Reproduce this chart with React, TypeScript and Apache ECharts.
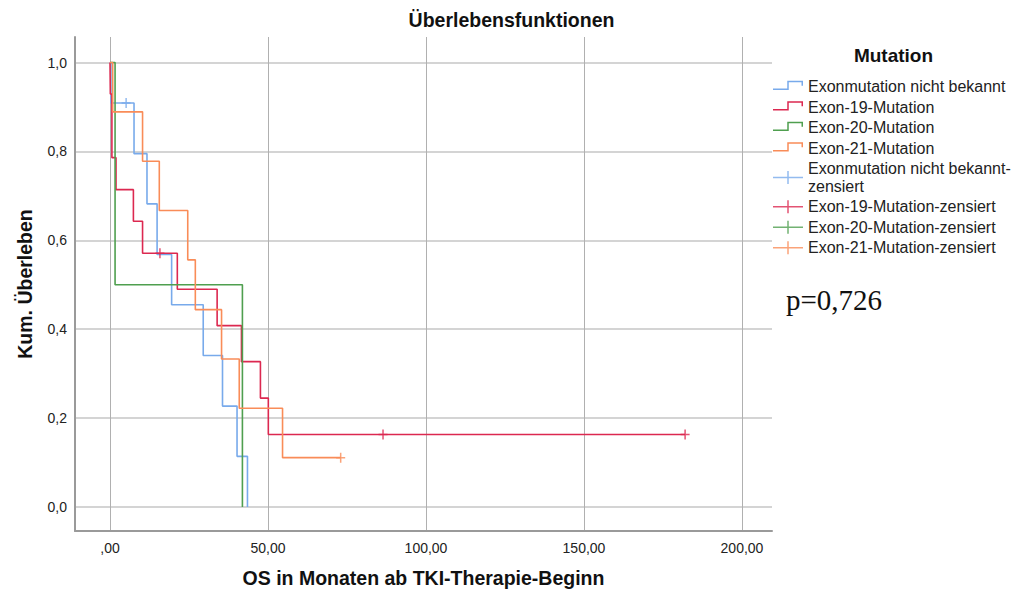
import React, { useEffect, useRef } from "react";
import * as echarts from "echarts";

const groupNames = [
  "Exonmutation nicht bekannt",
  "Exon-19-Mutation",
  "Exon-20-Mutation",
  "Exon-21-Mutation",
];
const censorNames = [
  "Exonmutation nicht bekannt-zensiert",
  "Exon-19-Mutation-zensiert",
  "Exon-20-Mutation-zensiert",
  "Exon-21-Mutation-zensiert",
];
const colors = ["#78aaeb", "#dc2850", "#4f9f4f", "#f98c58"];

// Kaplan-Meier steps: [months, survival after the drop]
const unknownSteps = [
  [0, 1], [0.3, 0.909], [7.6, 0.795], [11.7, 0.682], [14.9, 0.568],
  [19.5, 0.455], [29.5, 0.341], [35.6, 0.227], [40.2, 0.114], [43.5, 0],
];
const exon19Steps = [
  [0, 1], [0.1, 0.929], [0.6, 0.786], [1.9, 0.714], [7.4, 0.643], [10.3, 0.571],
  [21.3, 0.49], [33.9, 0.408], [41.6, 0.327], [47.6, 0.245], [50.1, 0.163], [182.0, 0.163],
];
const exon20Steps = [[0, 1], [1.6, 0.5], [41.9, 0]];
const exon21Steps = [
  [0, 1], [0.85, 0.889], [10.3, 0.778], [15.6, 0.667], [24.6, 0.556], [27.0, 0.444],
  [35.3, 0.333], [40.9, 0.222], [54.6, 0.111], [73.0, 0.111],
];

const unknownCensored = [[5.1, 0.909]];
const exon19Censored = [[15.8, 0.571], [86.4, 0.163], [182.0, 0.163]];
const exon20Censored: number[][] = [];
const exon21Censored = [[73.0, 0.111]];

const xTicks = [0, 50, 100, 150, 200];
const yTicks = [0, 0.2, 0.4, 0.6, 0.8, 1.0];

const stepsAll = [unknownSteps, exon19Steps, exon20Steps, exon21Steps];
const censAll = [unknownCensored, exon19Censored, exon20Censored, exon21Censored];

const bboxPad = "M0,0 L0.01,0 L0,0.01 Z M0,14 L0.01,14 L0,13.99 Z ";
const stepIcon =
  "path://" + bboxPad + "M0,8.75 H14.25 V1 H30 V6 H28.5 V2.5 H15.75 V10.25 H0 Z";
const plusIcon =
  "path://" + bboxPad + "M0,6.25 H14.25 V0.5 H15.75 V6.25 H30 V7.75 H15.75 V13.5 H14.25 V7.75 H0 Z";
const plusMarker =
  "path://M3.75,0 H5.25 V4.25 H9 V5.75 H5.25 V10 H3.75 V5.75 H0 V4.25 H3.75 Z";

const FONT = "'Liberation Sans', Arial, sans-serif";

export default function App() {
  const ref = useRef<HTMLDivElement>(null);

  useEffect(() => {
    document.body.style.margin = "0";
    if (!ref.current) return;
    const chart = echarts.init(ref.current, undefined, { renderer: "svg" });

    const lineSeries = groupNames.map((name, i) => ({
      name,
      type: "line",
      step: "end",
      data: stepsAll[i],
      showSymbol: false,
      symbol: "none",
      lineStyle: { color: colors[i], width: 1.6 },
      itemStyle: { color: colors[i] },
      silent: true,
      emphasis: { disabled: true },
      z: 3,
    }));
    const censorSeries = censorNames.map((name, i) => ({
      name,
      type: "scatter",
      data: censAll[i],
      symbol: plusMarker,
      symbolSize: [9, 10],
      itemStyle: { color: colors[i] },
      silent: true,
      emphasis: { disabled: true },
      z: 4,
    }));

    const legendData = [
      ...groupNames.map((name, i) => ({
        name,
        icon: stepIcon,
        itemStyle: { color: colors[i], borderWidth: 0 },
      })),
      ...censorNames.map((name, i) => ({
        name,
        icon: plusIcon,
        itemStyle: { color: colors[i], borderWidth: 0 },
      })),
    ];

    chart.setOption({
      animation: false,
      backgroundColor: "#ffffff",
      grid: { left: 75, right: 241, top: 37, bottom: 63, containLabel: false },
      xAxis: {
        type: "value",
        min: -11.08,
        max: 209.5,
        name: "OS in Monaten ab TKI-Therapie-Beginn",
        nameLocation: "middle",
        nameGap: 37,
        nameTextStyle: { fontFamily: FONT, fontSize: 19.5, fontWeight: "bold", color: "#111" },
        axisLine: { show: true, onZero: false, lineStyle: { color: "#9a9a9a", width: 2 } },
        axisTick: { show: false, customValues: xTicks },
        axisLabel: {
          customValues: xTicks,
          margin: 10,
          fontFamily: FONT,
          fontSize: 14,
          color: "#222",
          formatter: (v: number) => (v === 0 ? ",00" : v.toFixed(2).replace(".", ",")),
        },
        splitLine: { show: true, lineStyle: { color: "#b0b0b0", width: 1 } },
      },
      yAxis: {
        type: "value",
        min: -0.054,
        max: 1.0574,
        name: "Kum. Überleben",
        nameLocation: "middle",
        nameGap: 40,
        nameTextStyle: { fontFamily: FONT, fontSize: 19.5, fontWeight: "bold", color: "#111" },
        axisLine: { show: true, onZero: false, lineStyle: { color: "#9a9a9a", width: 2 } },
        axisTick: { show: false, customValues: yTicks },
        axisLabel: {
          customValues: yTicks,
          margin: 8,
          fontFamily: FONT,
          fontSize: 14,
          color: "#222",
          formatter: (v: number) => v.toFixed(1).replace(".", ","),
        },
        splitLine: { show: true, lineStyle: { color: "#c6c6c6", width: 1.5 } },
      },
      legend: {
        orient: "vertical",
        left: 773,
        top: 78,
        itemWidth: 30,
        itemHeight: 14,
        itemGap: 3,
        selectedMode: false,
        padding: 0,
        data: legendData,
        textStyle: { fontFamily: FONT, fontSize: 16, color: "#222", lineHeight: 17.5 },
        formatter: (name: string) => name.replace("bekannt-zensiert", "bekannt-\nzensiert"),
      },
      graphic: [
        {
          type: "text",
          x: 511.5,
          y: 20,
          style: {
            text: "Überlebensfunktionen",
            fontFamily: FONT,
            fontSize: 19.5,
            fontWeight: "bold",
            fill: "#111",
            align: "center",
            verticalAlign: "middle",
          },
        },
        {
          type: "text",
          x: 893.5,
          y: 55,
          style: {
            text: "Mutation",
            fontFamily: FONT,
            fontSize: 19,
            fontWeight: "bold",
            fill: "#111",
            align: "center",
            verticalAlign: "middle",
          },
        },
        {
          type: "text",
          x: 786,
          y: 300,
          style: {
            text: "p=0,726",
            fontFamily: "'Liberation Serif', 'Times New Roman', serif",
            fontSize: 29,
            fill: "#111",
            align: "left",
            verticalAlign: "middle",
          },
        },
      ],
      series: [...lineSeries, ...censorSeries],
    });

    return () => chart.dispose();
  }, []);

  return <div ref={ref} style={{ width: 1013, height: 594 }} />;
}
